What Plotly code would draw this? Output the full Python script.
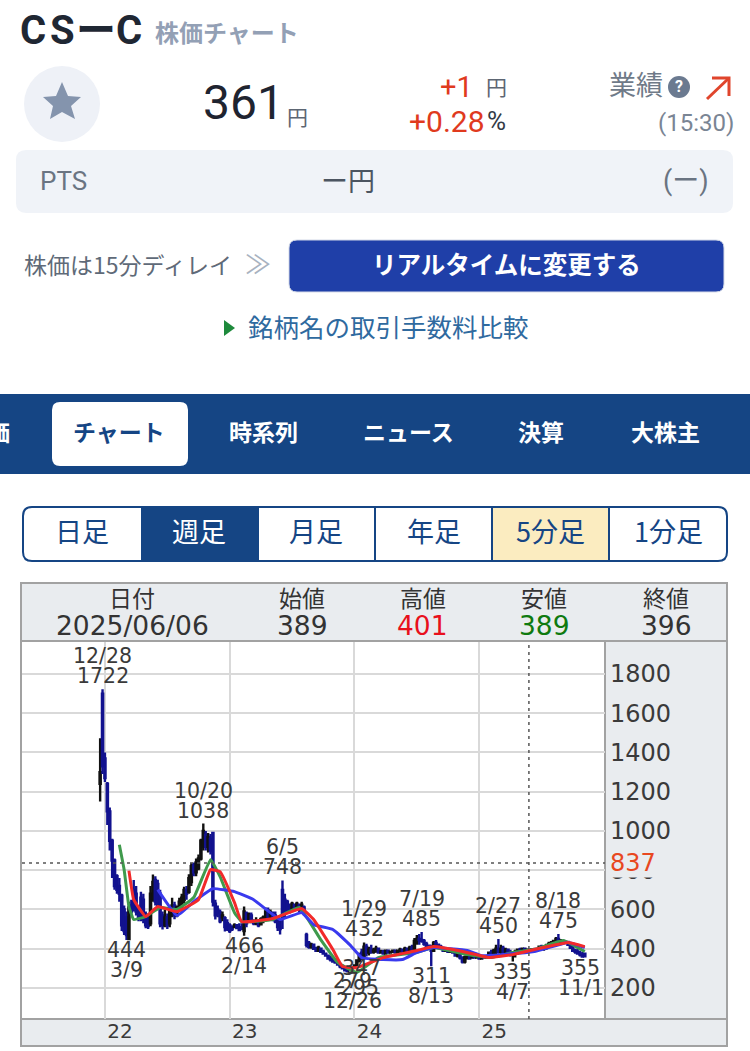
#!/usr/bin/env python3
"""CS-C weekly stock chart page, redrawn with plotly."""
import pandas as pd
import plotly.graph_objects as go

FONT = 'Noto Sans CJK JP'
NUM_FONT = 'Roboto, Noto Sans CJK JP'
CHART_FONT = 'DejaVu Sans'
W, H = 750, 1051
NAVY = '#154584'
PANEL = '#e9ecef'
BORDER = '#a2a2a2'
GRID = '#d9d9d9'

# weekly candles, first one is the week of 2021-12-24
FIRST_WEEK = '2021-12-24'
HIGH = [1473, 1722, 1400, 1250, 1120, 960, 860, 780, 760, 680,
        620, 590, 640, 650, 750, 720, 620, 690, 680, 590,
        580, 720, 778, 770, 752, 700, 590, 600, 580, 620,
        660, 640, 620, 660, 680, 716, 720, 780, 838, 840,
        860, 880, 960, 1038, 1000, 990, 985, 996, 650, 620,
        600, 590, 565, 550, 530, 520, 530, 525, 530, 530,
        615, 590, 585, 585, 550, 560, 550, 560, 570, 610,
        610, 600, 590, 590, 560, 549, 748, 680, 650, 630,
        640, 630, 640, 630, 640, 620, 482, 440, 430, 425,
        410, 415, 405, 395, 380, 370, 365, 355, 345, 340,
        330, 320, 310, 305, 300, 310, 320, 347, 380, 400,
        432, 425, 410, 420, 405, 415, 405, 395, 395, 395,
        395, 390, 395, 395, 395, 405, 400, 410, 405, 415,
        420, 455, 470, 475, 485, 450, 435, 420, 420, 440,
        445, 425, 420, 410, 405, 400, 400, 395, 385, 380,
        375, 360, 365, 370, 370, 365, 365, 365, 365, 365,
        365, 365, 385, 395, 400, 420, 450, 420, 415, 405,
        400, 395, 385, 395, 400, 405, 405, 405, 400, 400,
        401, 405, 400, 415, 420, 410, 425, 435, 440, 445,
        460, 475, 450, 445, 440, 440, 430, 415, 400, 400,
        390, 385, 380]
LOW = [1150, 1290, 1250, 1030, 900, 760, 700, 680, 640, 490,
       470, 444, 444, 570, 590, 570, 540, 540, 530, 505,
       500, 515, 640, 620, 600, 510, 498, 510, 500, 510,
       560, 550, 560, 590, 600, 630, 650, 680, 720, 770,
       770, 800, 850, 900, 900, 890, 880, 615, 549, 560,
       530, 540, 488, 490, 480, 490, 505, 500, 490, 495,
       466, 510, 540, 530, 520, 520, 510, 520, 530, 540,
       545, 550, 540, 530, 490, 472, 500, 560, 584, 580,
       590, 590, 595, 585, 590, 570, 406, 400, 400, 395,
       385, 385, 380, 370, 360, 345, 335, 330, 325, 315,
       300, 295, 285, 279, 285, 295, 300, 310, 330, 340,
       345, 360, 365, 375, 375, 380, 375, 375, 370, 370,
       375, 375, 380, 375, 375, 380, 380, 380, 380, 385,
       390, 395, 420, 420, 430, 415, 405, 395, 311, 385,
       410, 405, 395, 385, 385, 380, 380, 375, 360, 355,
       345, 325, 325, 345, 345, 350, 350, 350, 345, 350,
       350, 350, 355, 360, 365, 370, 375, 370, 370, 375,
       370, 360, 335, 355, 370, 375, 375, 380, 380, 380,
       389, 385, 385, 390, 395, 390, 395, 405, 410, 415,
       420, 425, 420, 425, 425, 415, 400, 385, 375, 370,
       360, 355, 355]
OPEN = [1240, 1700, 1370, 1240, 1100, 950, 850, 770, 720, 670,
        600, 560, 450, 620, 700, 680, 600, 660, 650, 570,
        560, 530, 660, 750, 730, 680, 570, 520, 560, 530,
        580, 620, 570, 600, 620, 650, 700, 690, 740, 830,
        790, 810, 860, 920, 980, 920, 960, 990, 630, 600,
        585, 560, 555, 530, 520, 510, 510, 520, 510, 505,
        490, 580, 550, 570, 540, 530, 540, 525, 545, 560,
        595, 565, 580, 570, 550, 540, 700, 650, 640, 610,
        600, 625, 605, 620, 600, 610, 470, 430, 410, 420,
        400, 390, 400, 385, 375, 365, 350, 345, 340, 330,
        320, 310, 305, 295, 290, 300, 305, 315, 340, 380,
        360, 410, 380, 395, 385, 390, 400, 380, 385, 375,
        390, 380, 385, 390, 380, 390, 395, 385, 400, 390,
        405, 400, 440, 450, 445, 440, 425, 415, 400, 390,
        430, 420, 410, 400, 390, 395, 385, 390, 380, 365,
        370, 355, 335, 355, 360, 355, 360, 355, 360, 350,
        360, 355, 360, 380, 370, 385, 395, 385, 400, 385,
        395, 380, 370, 375, 385, 395, 385, 400, 390, 395,
        389, 396, 390, 395, 410, 400, 405, 415, 425, 430,
        440, 450, 430, 440, 430, 435, 420, 405, 390, 385,
        375, 370, 375]
CLOSE = [1300, 1330, 1270, 1100, 950, 850, 720, 700, 680, 520,
         490, 470, 610, 590, 610, 590, 560, 570, 550, 520,
         515, 680, 740, 640, 620, 530, 520, 560, 520, 590,
         620, 570, 610, 640, 660, 700, 680, 760, 820, 790,
         840, 860, 950, 1000, 920, 970, 900, 640, 570, 580,
         540, 570, 510, 500, 490, 500, 520, 505, 495, 500,
         590, 530, 575, 540, 530, 540, 520, 550, 560, 590,
         560, 585, 550, 540, 510, 500, 560, 590, 600, 590,
         630, 600, 630, 600, 625, 590, 420, 410, 420, 400,
         390, 405, 385, 375, 365, 350, 345, 335, 330, 320,
         310, 300, 290, 285, 295, 305, 315, 340, 370, 360,
         410, 380, 395, 385, 390, 400, 380, 385, 375, 390,
         380, 385, 390, 380, 390, 395, 385, 400, 385, 405,
         395, 440, 450, 445, 440, 425, 415, 400, 390, 430,
         420, 410, 400, 390, 395, 385, 390, 380, 365, 370,
         355, 335, 355, 360, 350, 360, 355, 360, 350, 360,
         355, 360, 380, 370, 390, 400, 385, 400, 380, 395,
         380, 370, 375, 385, 395, 385, 400, 390, 395, 385,
         396, 390, 395, 410, 400, 405, 415, 425, 430, 440,
         450, 430, 440, 430, 435, 420, 405, 390, 385, 375,
         370, 360, 361]

# moving averages, read at the points where the lines bend
GREEN_DATES = ['2022-02-18', '2022-03-04', '2022-03-18', '2022-04-01', '2022-05-06', '2022-06-17',
               '2022-08-05', '2022-09-23', '2022-11-11', '2022-12-09', '2023-01-20', '2023-02-10',
               '2023-05-12', '2023-07-28', '2023-09-29', '2023-11-17', '2024-01-12', '2024-03-15',
               '2024-07-05', '2024-08-23', '2024-11-29', '2025-02-07', '2025-04-11', '2025-06-13',
               '2025-09-05', '2025-11-07']
GREEN_VALUES = [930, 803, 615, 549, 564, 610, 600, 661, 854, 767, 584, 538,
                549, 610, 445, 330, 279, 355, 381, 406, 370, 355, 381, 396, 442, 386]
RED_DATES = ['2022-03-18', '2022-04-01', '2022-05-06', '2022-06-10', '2022-08-05', '2022-10-07',
             '2022-11-11', '2022-12-09', '2023-01-20', '2023-02-10', '2023-05-12', '2023-08-04',
             '2023-09-08', '2023-11-03', '2023-12-01', '2024-01-12', '2024-03-29', '2024-07-05',
             '2024-08-23', '2024-11-29', '2025-01-31', '2025-04-11', '2025-06-13', '2025-09-19',
             '2025-11-07']
RED_VALUES = [798, 650, 564, 615, 589, 650, 803, 793, 635, 538, 554, 605,
              549, 396, 309, 304, 355, 391, 411, 381, 355, 370, 396, 432, 411]
BLUE_DATES = ['2022-06-10', '2022-08-05', '2022-09-23', '2022-11-18', '2023-01-20', '2023-03-17',
              '2023-06-02', '2023-08-04', '2023-09-08', '2023-11-03', '2023-12-22', '2024-01-26',
              '2024-03-29', '2024-05-24', '2024-07-05', '2024-08-23', '2024-11-29', '2025-01-10',
              '2025-03-07', '2025-06-13', '2025-09-19', '2025-11-07']
BLUE_VALUES = [701, 569, 640, 706, 691, 650, 549, 584, 523, 498, 421, 355,
               345, 345, 381, 406, 391, 365, 370, 386, 432, 406]

Y_TICKS = [200, 400, 600, 800, 1000, 1200, 1400, 1600, 1800]
YEAR_TICKS = ['2022-01-07', '2023-01-06', '2024-01-05', '2025-01-03']
YEAR_LABELS = ['22', '23', '24', '25']

CURRENT_LINE = 837
CROSS_DATE = '2025-05-28'  # where the dashed line sits on the picture

PEAK_DATES = ['2021-12-31', '2022-10-21', '2023-06-09', '2024-02-02', '2024-07-19', '2025-02-28', '2025-08-22']
PEAK_VALUES = [1722, 1038, 748, 432, 485, 450, 475]
PEAK_DAYS = ['12/28', '10/20', '6/5', '1/29', '7/19', '2/27', '8/18']
LOW_DATES = ['2022-03-11', '2023-02-17', '2024-08-16', '2025-04-11', '2025-11-07']
LOW_VALUES = [444, 466, 311, 335, 355]
LOW_DAYS = ['3/9', '2/14', '8/13', '4/7', '11/1']

HEAD_NAMES = ['日付', '始値', '高値', '安値', '終値']
HEAD_VALUES = ['2025/06/06', '389', '401', '389', '396']
TAB_NAMES = ['チャート', '時系列', 'ニュース', '決算', '大株主']
SPAN_NAMES = ['日足', '週足', '月足', '年足', '5分足', '1分足']

dates = pd.date_range(FIRST_WEEK, periods=len(HIGH), freq='7D')


def fx(x):
    return x / W


def fy(y):
    return 1 - y / H


shapes = []
annotations = []


def txt(x, y, s, size, color='#333333', anchor='center', font=FONT, bold=False):
    if bold:
        s = '<b>' + s + '</b>'
    # annotations carry a little padding, and the CJK face sits low in its box
    if anchor == 'left':
        x -= 3
    if anchor == 'right':
        x += 3
    if font == FONT:
        y -= 2
    annotations.append(dict(x=fx(x), y=fy(y), xref='paper', yref='paper', text=s, showarrow=False,
                            xanchor=anchor, yanchor='middle', font=dict(family=font, size=size, color=color)))


def rect(x0, y0, x1, y1, fill='rgba(0,0,0,0)', line=None, lw=2):
    shapes.append(dict(type='rect', xref='paper', yref='paper', x0=fx(x0), x1=fx(x1), y0=fy(y0), y1=fy(y1),
                       fillcolor=fill, line=dict(color=line or 'rgba(0,0,0,0)', width=lw if line else 0),
                       layer='below'))


def path(points, fill=None, line=None, lw=2, close=True):
    d = 'M' + ' L'.join(f'{fx(px):.5f},{fy(py):.5f}' for px, py in points)
    if close:
        d += ' Z'
    shapes.append(dict(type='path', xref='paper', yref='paper', path=d, fillcolor=fill or 'rgba(0,0,0,0)',
                       line=dict(color=line or 'rgba(0,0,0,0)', width=lw if line else 0), layer='below'))


def round_rect(x0, y0, x1, y1, r, fill='rgba(0,0,0,0)', line=None, lw=2):
    xa, xb, ya, yb = fx(x0), fx(x1), fy(y0), fy(y1)
    rx, ry = r / W, r / H
    d = (f'M{xa + rx:.5f},{ya:.5f} L{xb - rx:.5f},{ya:.5f} Q{xb:.5f},{ya:.5f} {xb:.5f},{ya - ry:.5f} '
         f'L{xb:.5f},{yb + ry:.5f} Q{xb:.5f},{yb:.5f} {xb - rx:.5f},{yb:.5f} '
         f'L{xa + rx:.5f},{yb:.5f} Q{xa:.5f},{yb:.5f} {xa:.5f},{yb + ry:.5f} '
         f'L{xa:.5f},{ya - ry:.5f} Q{xa:.5f},{ya:.5f} {xa + rx:.5f},{ya:.5f} Z')
    shapes.append(dict(type='path', xref='paper', yref='paper', path=d, fillcolor=fill,
                       line=dict(color=line or 'rgba(0,0,0,0)', width=lw if line else 0), layer='below'))


def circle(cx, cy, r, fill):
    shapes.append(dict(type='circle', xref='paper', yref='paper', x0=fx(cx - r), x1=fx(cx + r),
                       y0=fy(cy - r), y1=fy(cy + r), fillcolor=fill, line=dict(width=0), layer='below'))


# top block
for x, s in zip([33, 62, 96, 129], ['C', 'S', 'ー', 'C']):
    txt(x, 31, s, 40, '#1f2733', font=NUM_FONT, bold=True)
txt(156, 34, '株価チャート', 24, '#93a0b5', anchor='left', bold=True)

circle(62, 104, 38, '#eef1f7')
path([(62, 82), (68, 96), (81, 97), (71, 106), (75, 119), (62, 112), (50, 119), (53, 106), (43, 97), (56, 96)],
     fill='#8494ad')
txt(243, 103, '361', 48, '#1f2430', font=NUM_FONT)
txt(297, 118, '円', 21, '#5d6673')
txt(456, 87, '+1', 29, '#e03a1e', font=NUM_FONT)
txt(496, 88, '円', 21, '#5d6673')
txt(447, 121, '+0.28', 30, '#e03a1e', font=NUM_FONT)
txt(497, 121, '%', 26, '#333a45', font=NUM_FONT)
txt(636, 86, '業績', 27, '#6f7a88')
circle(679, 87, 11, '#6b7a90')
txt(679, 87, '?', 16, '#ffffff', font=NUM_FONT, bold=True)
path([(707, 99), (729, 78)], line='#e0452c', lw=3, close=False)
path([(712, 78), (729, 78), (729, 96)], line='#e0452c', lw=3, close=False)
txt(733, 123, '(15:30)', 24, '#7a8594', anchor='right', font=NUM_FONT)

round_rect(16, 150, 733, 213, 10, fill='#f0f3f8')
txt(41, 181, 'PTS', 26, '#6a7482', anchor='left', font=NUM_FONT)
txt(348, 181, 'ー円', 27, '#4c5561')
txt(686, 181, '(ー)', 27, '#6a7482', font=NUM_FONT)

txt(25, 266, '株価は15分ディレイ', 23, '#5f6a78', anchor='left')
txt(258, 264, '≫', 26, '#a8b2c0')
round_rect(289, 240, 724, 292, 8, fill='#1f3fa8', line='#d5dbe8', lw=1)
txt(506, 265, 'リアルタイムに変更する', 24.5, '#ffffff', bold=True)
path([(224, 320), (235, 328), (224, 336)], fill='#1e8a3c')
txt(249, 327, '銘柄名の取引手数料比較', 25.5, '#2f6a9f', anchor='left')

# nav band
rect(0, 394, 750, 474, fill=NAVY)
round_rect(52, 402, 188, 466, 8, fill='#ffffff')
txt(-2, 433, '価', 23, '#ffffff', bold=True)
for x, s, c in zip([119, 263, 408, 541, 665], TAB_NAMES, [NAVY, '#ffffff', '#ffffff', '#ffffff', '#ffffff']):
    txt(x, 433, s, 23, c, bold=True)

# chart span switch
rect(141, 507, 258, 561, fill=NAVY)
rect(492, 507, 609, 561, fill='#fbecc0')
for x in [258, 375, 492, 609]:
    path([(x, 507), (x, 561)], line=NAVY, lw=2, close=False)
round_rect(23, 507, 727, 561, 9, line=NAVY, lw=2)
for x, s in zip([82, 199, 316, 434, 550, 668], SPAN_NAMES):
    txt(x, 532, s, 27, '#ffffff' if s == '週足' else NAVY)

# chart frame
rect(21, 584, 727, 641, fill=PANEL)
rect(606, 642, 727, 1019, fill=PANEL)
rect(21, 1020, 727, 1046, fill=PANEL)
for x, name, val, col in zip([132, 302, 423, 544, 666], HEAD_NAMES, HEAD_VALUES,
                             ['#333333', '#333333', '#e8101c', '#0f7a0f', '#333333']):
    txt(x, 599, name, 23, '#333333')
    txt(x, 625, val, 26.5, col, font=CHART_FONT)
path([(21, 641), (727, 641)], line=BORDER, lw=2, close=False)
path([(605, 641), (605, 1019)], line=BORDER, lw=2, close=False)
path([(21, 1019), (727, 1019)], line=BORDER, lw=2, close=False)
rect(21, 583, 727, 1046, line=BORDER, lw=2)

# current price and date cross lines
shapes.append(dict(type='line', xref='paper', yref='y', x0=fx(22), x1=fx(605), y0=CURRENT_LINE, y1=CURRENT_LINE,
                   line=dict(color='#555555', width=1.5, dash='3px,4px')))
shapes.append(dict(type='line', xref='x', yref='paper', x0=CROSS_DATE, x1=CROSS_DATE, y0=fy(1019), y1=fy(642),
                   line=dict(color='#555555', width=1.5, dash='3px,4px')))


def point_label(date, value, s, yshift, xshift=0):
    annotations.append(dict(x=date, y=value, xref='x', yref='y', text=s, showarrow=False, xanchor='center',
                            yanchor='middle', xshift=xshift, yshift=yshift,
                            font=dict(family=CHART_FONT, size=20.5, color='#3a3a3a')))


for d, v, day in zip(PEAK_DATES, PEAK_VALUES, PEAK_DAYS):
    point_label(d, v, str(v), 13)
    point_label(d, v, day, 33)
for d, v, day in zip(LOW_DATES, LOW_VALUES, LOW_DAYS):
    nudge = -4 if day == '11/1' else 0
    point_label(d, v, str(v), -10, nudge)
    point_label(d, v, day, -30, nudge)
# crowded lows around the turn of 2024
point_label('2024-01-26', 347, '347', -9)
point_label('2023-12-29', 279, '279', -9)
point_label('2024-01-19', 295, '295', -19)
point_label('2023-12-29', 295, '12/26', -32)

# current price tag sits over the hidden 800 tick label
annotations.append(dict(x=fx(609), y=CURRENT_LINE, xref='paper', yref='y', text='837', showarrow=False,
                        xanchor='left', yanchor='middle', bgcolor=PANEL, borderpad=0,
                        font=dict(family=CHART_FONT, size=24, color='#e8481f')))

fig = go.Figure()
fig.add_trace(go.Candlestick(x=dates, open=OPEN, high=HIGH, low=LOW, close=CLOSE, whiskerwidth=0,
                             increasing=dict(line=dict(color='#111111', width=2.4), fillcolor='#111111'),
                             decreasing=dict(line=dict(color='#12128f', width=2.4), fillcolor='#12128f'),
                             hoverinfo='skip'))
fig.add_trace(go.Scatter(x=pd.to_datetime(GREEN_DATES), y=GREEN_VALUES, mode='lines',
                         line=dict(color='#3f9a4c', width=3, shape='spline', smoothing=0.3)))
fig.add_trace(go.Scatter(x=pd.to_datetime(BLUE_DATES), y=BLUE_VALUES, mode='lines',
                         line=dict(color='#3a3aee', width=3, shape='spline', smoothing=0.3)))
fig.add_trace(go.Scatter(x=pd.to_datetime(RED_DATES), y=RED_VALUES, mode='lines',
                         line=dict(color='#f22a2a', width=3, shape='spline', smoothing=0.3)))

fig.update_layout(
    width=W, height=H, margin=dict(l=0, r=0, t=0, b=0), showlegend=False,
    paper_bgcolor='#ffffff', plot_bgcolor='#ffffff',
    shapes=shapes, annotations=annotations,
    xaxis=dict(domain=[fx(22), fx(605)], type='date', range=['2021-05-10', '2026-01-05'],
               rangeslider=dict(visible=False), tickmode='array', tickvals=YEAR_TICKS, ticktext=YEAR_LABELS,
               ticklabelshift=15, ticklabelstandoff=-2, ticks='', showgrid=True, gridcolor=GRID, gridwidth=2,
               zeroline=False, tickfont=dict(family=CHART_FONT, size=20, color='#3a3a3a')),
    yaxis=dict(domain=[fy(1019), fy(642)], range=[42, 1963], side='right', tickmode='array', tickvals=Y_TICKS,
               ticks='', ticklabelstandoff=4, showgrid=True, gridcolor=GRID, gridwidth=2,
               zeroline=False, tickfont=dict(family=CHART_FONT, size=24, color='#3a3a3a')),
)

fig.write_html('out.html', config=dict(displayModeBar=False),
               post_script="document.body.style.margin='0';")
